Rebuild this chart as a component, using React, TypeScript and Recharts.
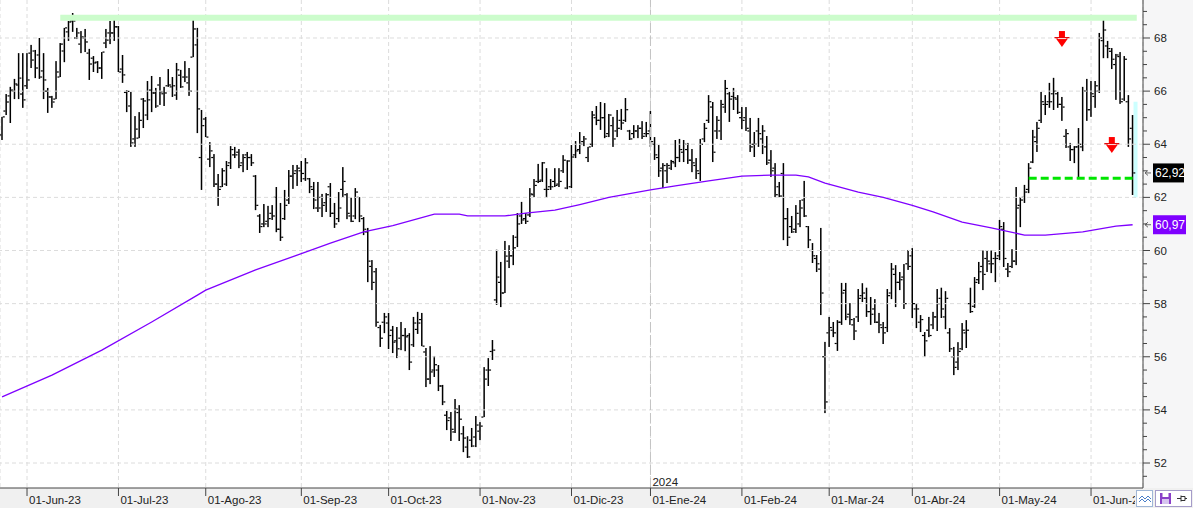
import React from 'react';
import {
  ComposedChart,
  Bar,
  Line,
  XAxis,
  YAxis,
  CartesianGrid,
  ReferenceLine,
  ReferenceDot
} from 'recharts';

// daily bars, one entry per trading session (index 0 = end of May 2023)
const OPEN = [
  64.35, 65.25, 65.82, 66.00, 66.23, 65.89, 66.20, 67.43, 67.51, 67.36,
  66.76, 66.00, 65.78, 65.70, 66.53, 67.51, 68.23, 68.64, 68.00, 67.77,
  68.00, 67.43, 67.24, 67.09, 66.87, 67.81, 68.19, 68.19, 68.42, 66.83,
  65.95, 65.44, 64.20, 64.23, 65.70, 65.10, 66.04, 65.93, 66.23, 65.90,
  66.20, 66.16, 65.85, 66.60, 66.53, 66.31, 67.28, 67.74, 63.50, 64.95,
  63.44, 63.50, 62.50, 62.40, 62.50, 63.30, 63.60, 63.70, 63.30, 63.60,
  63.50, 62.80, 61.30, 61.00, 61.10, 61.40, 62.00, 60.80, 61.20, 61.90,
  62.80, 63.00, 63.00, 62.70, 62.70, 62.30, 61.60, 62.00, 61.80, 62.40,
  61.40, 61.20, 62.30, 62.10, 61.30, 61.30, 62.00, 61.20, 60.70, 59.40,
  59.20, 57.10, 57.30, 57.27, 57.00, 56.60, 56.70, 56.80, 56.80, 56.45,
  57.03, 57.40, 56.18, 55.16, 55.50, 55.50, 54.90, 53.80, 53.70, 53.17,
  53.90, 53.10, 52.60, 52.86, 52.98, 53.20, 53.73, 55.50, 56.20, 58.14,
  58.80, 58.40, 59.60, 59.80, 60.50, 61.30, 61.20, 61.34, 62.10, 62.60,
  62.65, 62.30, 62.40, 62.60, 62.50, 63.00, 62.35, 62.40, 63.60, 63.80,
  64.10, 63.50, 64.00, 65.00, 64.90, 65.00, 64.40, 64.70, 64.50, 64.90,
  64.90, 64.50, 64.40, 64.50, 64.60, 64.40, 64.50, 64.00, 63.50, 63.10,
  63.00, 63.10, 63.30, 63.50, 63.70, 63.80, 63.40, 63.20, 62.90, 64.20,
  64.90, 65.40, 64.50, 64.50, 65.40, 65.90, 65.80, 65.70, 65.00, 65.00,
  64.50, 64.00, 64.50, 64.20, 63.90, 63.40, 63.10, 62.40, 62.90, 61.20,
  60.90, 60.80, 61.00, 61.90, 60.90, 60.00, 59.70, 59.30, 56.00, 56.90,
  57.00, 56.50, 57.30, 58.50, 57.60, 57.20, 57.50, 58.30, 58.20, 57.70,
  57.80, 57.30, 57.10, 57.10, 58.40, 59.10, 58.80, 59.00, 59.50, 59.80,
  57.80, 57.30, 56.80, 57.00, 57.20, 57.50, 58.20, 57.50, 56.90, 56.00,
  55.80, 56.30, 56.90, 58.00, 57.90, 58.90, 59.40, 59.70, 59.50, 59.70,
  59.80, 60.80, 59.30, 59.40, 59.60, 61.70, 62.00, 62.30, 63.33, 64.10,
  64.90, 65.50, 65.60, 65.90, 65.90, 65.50, 64.30, 63.90, 63.80, 63.90,
  63.90, 66.00, 65.30, 65.80, 66.00, 67.90, 67.70, 67.50, 67.00, 67.30,
  65.70, 65.60, 64.60
];

const HIGH = [
  65.03, 65.89, 66.16, 66.46, 67.43, 67.43, 67.43, 67.74, 67.55, 68.00,
  67.43, 66.12, 65.82, 67.13, 67.81, 68.38, 68.64, 68.94, 68.38, 68.26,
  68.34, 67.59, 67.32, 67.13, 67.47, 68.34, 68.64, 68.68, 68.45, 67.36,
  66.04, 65.97, 65.06, 65.21, 65.74, 66.38, 66.57, 66.12, 66.53, 66.16,
  66.83, 66.53, 67.06, 66.80, 67.13, 66.87, 68.72, 68.38, 65.29, 65.03,
  64.08, 63.63, 62.88, 63.10, 63.37, 63.93, 63.90, 63.82, 63.63, 63.71,
  63.63, 62.84, 61.37, 61.75, 61.68, 61.71, 62.39, 61.79, 62.28, 63.03,
  63.22, 63.22, 63.37, 63.48, 62.73, 62.58, 62.58, 62.13, 62.16, 62.54,
  61.79, 62.20, 63.14, 62.16, 62.01, 62.35, 62.01, 61.26, 60.85, 59.64,
  59.34, 57.20, 57.65, 57.65, 57.16, 57.12, 57.31, 57.08, 56.89, 57.50,
  57.69, 57.65, 56.33, 56.40, 56.03, 55.69, 54.94, 53.96, 53.92, 54.41,
  54.18, 53.39, 53.01, 53.32, 53.77, 53.54, 55.61, 55.95, 56.63, 60.03,
  59.57, 60.36, 60.20, 60.58, 61.41, 61.83, 61.41, 62.35, 62.69, 63.26,
  63.33, 63.10, 62.69, 63.10, 63.10, 63.59, 63.40, 63.97, 64.12, 64.46,
  64.31, 63.90, 65.25, 65.44, 65.59, 65.55, 65.14, 65.03, 65.29, 65.33,
  65.74, 64.54, 64.72, 64.72, 64.87, 64.84, 65.25, 64.27, 63.97, 63.29,
  63.29, 63.41, 64.16, 64.20, 64.16, 64.05, 63.82, 63.48, 64.20, 64.80,
  65.85, 65.59, 65.06, 65.67, 66.42, 65.97, 66.12, 65.85, 65.40, 65.40,
  64.99, 64.46, 64.99, 64.72, 64.31, 63.78, 63.29, 62.58, 63.29, 61.60,
  61.30, 61.71, 61.90, 62.62, 60.92, 60.28, 59.83, 60.85, 56.56, 57.50,
  57.31, 57.38, 58.78, 58.78, 58.02, 57.46, 58.55, 58.77, 58.60, 58.25,
  58.17, 57.65, 57.31, 58.55, 59.53, 59.45, 59.19, 59.49, 60.02, 60.09,
  58.00, 57.57, 56.93, 57.50, 57.69, 58.55, 58.60, 58.47, 57.08, 56.37,
  56.55, 57.27, 57.38, 58.60, 59.00, 59.57, 60.00, 60.00, 60.00, 59.94,
  61.15, 61.07, 59.53, 60.05, 62.39, 62.01, 62.47, 63.29, 64.54, 64.84,
  65.97, 65.85, 66.31, 66.50, 65.97, 65.78, 64.57, 64.05, 63.93, 64.61,
  66.16, 66.46, 66.38, 66.38, 68.19, 68.68, 67.89, 67.62, 67.40, 67.47,
  67.32, 65.85, 65.10
];

const LOW = [
  64.16, 65.10, 64.80, 65.70, 65.70, 65.37, 66.08, 66.87, 66.49, 66.46,
  65.70, 65.18, 65.37, 65.70, 66.53, 67.09, 67.89, 68.23, 67.96, 67.43,
  67.47, 66.42, 66.72, 66.68, 66.46, 67.62, 67.77, 67.89, 66.72, 66.31,
  65.21, 63.90, 63.90, 64.23, 64.61, 64.91, 65.21, 65.37, 65.48, 65.44,
  66.16, 65.78, 65.67, 66.12, 66.34, 65.82, 67.28, 64.42, 62.28, 64.27,
  63.14, 62.39, 61.68, 62.39, 62.43, 63.07, 63.48, 63.10, 62.95, 63.03,
  63.18, 61.52, 60.66, 60.88, 60.88, 61.15, 60.69, 60.36, 61.15, 61.75,
  62.32, 62.43, 62.58, 62.62, 62.16, 61.56, 61.45, 61.26, 61.45, 61.26,
  60.85, 61.07, 62.01, 61.18, 61.07, 61.18, 61.07, 60.58, 58.81, 58.51,
  57.13, 56.37, 56.89, 56.29, 56.14, 55.95, 56.25, 56.21, 55.50, 56.37,
  56.86, 56.40, 54.86, 54.97, 55.24, 54.71, 54.18, 53.24, 52.83, 53.13,
  52.83, 52.41, 52.19, 52.60, 52.60, 52.86, 53.73, 54.90, 55.88, 57.95,
  57.87, 58.40, 59.34, 59.45, 60.13, 61.00, 61.00, 61.26, 62.01, 62.54,
  62.58, 62.00, 62.28, 62.39, 62.39, 62.92, 62.31, 62.35, 63.48, 63.63,
  63.93, 63.33, 63.90, 64.72, 64.54, 64.23, 64.27, 63.90, 64.27, 64.54,
  64.84, 64.16, 64.23, 64.23, 64.20, 64.27, 63.90, 63.41, 62.77, 62.35,
  62.54, 63.03, 63.14, 63.33, 63.33, 63.26, 62.95, 62.69, 62.62, 64.08,
  64.80, 63.33, 64.20, 64.16, 65.18, 64.84, 65.29, 65.14, 64.57, 64.50,
  63.71, 63.52, 63.90, 63.63, 63.22, 62.77, 62.01, 62.01, 60.39, 60.17,
  60.66, 60.66, 60.88, 61.26, 60.09, 59.53, 59.19, 57.57, 53.88, 56.37,
  56.74, 56.22, 57.20, 57.38, 57.20, 56.63, 57.31, 58.06, 57.50, 57.20,
  57.27, 56.89, 56.48, 56.93, 58.17, 57.87, 58.51, 57.80, 59.27, 57.46,
  57.08, 56.93, 56.00, 56.74, 57.04, 56.97, 57.46, 57.04, 56.18, 55.31,
  55.50, 56.25, 56.33, 57.65, 57.84, 58.74, 58.51, 59.19, 59.15, 58.81,
  59.64, 59.38, 59.00, 59.34, 59.45, 60.88, 61.79, 62.16, 63.29, 63.71,
  64.80, 65.10, 65.37, 65.29, 65.37, 64.88, 63.86, 63.37, 63.29, 62.73,
  63.74, 64.88, 65.03, 65.37, 65.93, 67.24, 67.24, 66.83, 65.67, 65.52,
  65.63, 63.90, 62.09
];

const CLOSE = [
  65.03, 65.59, 66.04, 66.27, 66.49, 65.67, 66.42, 67.17, 66.87, 66.53,
  66.42, 65.78, 65.59, 66.72, 67.77, 68.38, 68.60, 68.64, 68.19, 68.04,
  67.85, 67.02, 67.06, 66.87, 67.47, 67.92, 68.19, 68.42, 66.72, 66.61,
  65.99, 64.05, 64.57, 64.90, 65.63, 65.67, 65.93, 65.44, 65.97, 65.93,
  66.23, 66.20, 66.80, 66.16, 66.53, 66.00, 68.34, 65.33, 64.70, 64.27,
  63.75, 62.50, 62.30, 63.00, 63.20, 63.80, 63.60, 63.20, 63.50, 63.50,
  63.30, 61.70, 60.90, 61.00, 61.20, 61.30, 60.80, 60.50, 61.70, 62.80,
  62.90, 63.10, 62.90, 63.30, 62.40, 61.90, 61.60, 61.70, 62.10, 61.40,
  61.00, 61.60, 62.60, 61.40, 61.10, 62.20, 61.30, 60.80, 59.60, 58.80,
  57.30, 56.70, 57.50, 56.80, 56.55, 56.30, 56.80, 56.75, 55.80, 57.27,
  57.27, 56.40, 55.16, 55.43, 55.70, 54.90, 54.30, 53.60, 53.27, 54.03,
  53.65, 52.94, 52.23, 52.64, 53.43, 53.39, 55.16, 55.50, 56.25, 59.00,
  58.40, 59.79, 59.80, 60.10, 61.00, 61.15, 61.10, 62.13, 62.45, 62.60,
  63.30, 62.30, 62.40, 62.45, 62.60, 63.40, 63.37, 63.52, 63.75, 64.00,
  64.20, 63.90, 65.10, 64.90, 65.00, 64.30, 65.10, 64.20, 64.60, 64.80,
  65.30, 64.20, 64.50, 64.60, 64.30, 64.40, 64.10, 63.60, 63.00, 63.20,
  63.20, 63.35, 63.50, 63.80, 64.00, 63.40, 63.30, 63.00, 64.00, 64.60,
  65.60, 63.70, 64.90, 65.50, 66.10, 65.70, 65.75, 65.20, 64.90, 64.60,
  63.90, 64.00, 64.40, 64.50, 63.30, 63.00, 62.10, 62.05, 61.20, 60.50,
  60.70, 61.40, 61.60, 61.30, 60.40, 59.80, 59.50, 58.40, 54.30, 57.10,
  56.90, 57.30, 58.40, 57.50, 57.40, 56.97, 58.20, 58.40, 57.70, 57.60,
  57.30, 57.20, 56.90, 58.30, 59.30, 58.80, 58.90, 58.00, 59.40, 58.00,
  57.80, 57.40, 56.60, 56.80, 57.50, 58.00, 57.80, 58.20, 56.30, 55.60,
  56.20, 57.00, 57.00, 57.70, 58.80, 59.20, 59.10, 59.60, 59.50, 59.70,
  60.90, 59.70, 59.20, 59.60, 61.60, 61.90, 62.20, 63.10, 64.27, 64.60,
  65.60, 65.50, 65.60, 66.00, 65.50, 65.40, 64.40, 63.80, 63.90, 64.00,
  66.00, 65.30, 65.90, 66.20, 68.00, 68.30, 67.60, 67.20, 67.36, 65.60,
  67.20, 64.20, 62.92
];

// moving average read at a few sessions, the line joins them
const MA_AT = [0, 12, 24, 36, 47, 49, 61, 71, 79, 87, 94, 104, 110, 112, 121, 126, 133, 139, 146, 156,
  162, 170, 178, 185, 191, 194, 198, 206, 212, 219, 224, 231, 238, 246, 251, 260, 268, 272];
const MA_VAL = [54.49, 55.31, 56.25, 57.31, 58.32, 58.51, 59.27, 59.83, 60.28, 60.70, 60.94, 61.37, 61.37, 61.30,
  61.30, 61.41, 61.52, 61.73, 62.00, 62.28, 62.43, 62.62, 62.80, 62.84, 62.84, 62.77, 62.54, 62.20, 62.00, 61.70,
  61.45, 61.07, 60.85, 60.58, 60.58, 60.70, 60.92, 60.97];

const MONTH_TICKS = [6, 28, 49, 72, 93, 115, 137, 156, 178, 199, 219, 240, 262];
const MONTH_LABELS = ['01-Jun-23', '01-Jul-23', '01-Ago-23', '01-Sep-23', '01-Oct-23', '01-Nov-23', '01-Dic-23',
  '01-Ene-24', '01-Feb-24', '01-Mar-24', '01-Abr-24', '01-May-24', '01-Jun-24'];

const Y_TICKS = [51.5, 52, 52.5, 53, 53.5, 54, 54.5, 55, 55.5, 56, 56.5, 57, 57.5, 58, 58.5, 59, 59.5, 60,
  60.5, 61, 61.5, 62, 62.5, 63, 63.5, 64, 64.5, 65, 65.5, 66, 66.5, 67, 67.5, 68, 68.5, 69];
const GRID_VALUES = [52, 54, 56, 58, 60, 62, 64, 66, 68];

const RESISTANCE = 68.76;
const SUPPORT = 62.72;
const LAST_PRICE = 62.92;
const LAST_MA = 60.97;
const LAST_GLOW = [62.0, 65.6];
const ARROWS = [{ i: 255, v: 67.96 }, { i: 267, v: 63.97 }];

const W = 1193;
const H = 508;
const AXIS_W = 50;
const AXIS_H = 20;
const PLOT_R = W - AXIS_W;
const PLOT_B = H - AXIS_H;
const SLOTS = 275;
const LAST = OPEN.length - 1;
const FONT = '"Liberation Sans", Arial, sans-serif';

const maMap = new Map<number, number>();
MA_AT.forEach((idx, k) => maMap.set(idx, MA_VAL[k]));

const data = Array.from({ length: SLOTS }, (_, i) => {
  const has = i < OPEN.length;
  return {
    i,
    range: has ? [LOW[i], HIGH[i]] : null,
    o: has ? OPEN[i] : null,
    h: has ? HIGH[i] : null,
    l: has ? LOW[i] : null,
    c: has ? CLOSE[i] : null,
    ma: maMap.has(i) ? maMap.get(i) : null
  };
});

const OhlcShape = (props: any) => {
  const { x, y, width, height, payload } = props;
  if (!payload || payload.h == null) return null;
  const top = Math.min(y, y + height);
  const len = Math.abs(height);
  const ppu = payload.h > payload.l ? len / (payload.h - payload.l) : 0;
  const py = (v: number) => top + (payload.h - v) * ppu;
  const cx = x + width / 2;
  return (
    <g>
      {payload.i === LAST ? (
        <rect x={cx + 1} y={py(LAST_GLOW[1])} width={4} height={py(LAST_GLOW[0]) - py(LAST_GLOW[1])} fill="#ccffff" />
      ) : null}
      <rect x={cx - 0.75} y={top} width={1.5} height={Math.max(len, 1)} fill="#000" />
      <rect x={cx - 2.75} y={py(payload.o) - 0.6} width={2} height={1.2} fill="#000" />
      <rect x={cx + 0.75} y={py(payload.c) - 0.6} width={2} height={1.2} fill="#000" />
    </g>
  );
};

const XTick = (props: any) => {
  const { x, payload } = props;
  const k = MONTH_TICKS.indexOf(payload.value);
  return (
    <g>
      <line x1={x} x2={x} y1={PLOT_B} y2={PLOT_B + 8} stroke="#444" />
      <text x={x + 2} y={PLOT_B + 16} fontSize={11.5} fontFamily={FONT} fill="#222">
        {k >= 0 ? MONTH_LABELS[k] : ''}
      </text>
    </g>
  );
};

const YTick = (props: any) => {
  const { y, payload } = props;
  const v = payload.value;
  const major = Math.abs(v % 2) < 1e-6;
  return (
    <g>
      <line x1={PLOT_R} x2={PLOT_R + (major ? 7 : 4)} y1={y} y2={y} stroke="#444" />
      {major ? (
        <text x={PLOT_R + 11} y={y + 4} fontSize={11.5} fontFamily={FONT} fill="#222">{v}</text>
      ) : null}
    </g>
  );
};

const PriceTag = (props: any) => {
  const { viewBox, color, text, boxW } = props;
  if (!viewBox) return null;
  const y = viewBox.y;
  return (
    <g>
      <path d={`M${PLOT_R + 2} ${y} h6 M${PLOT_R + 2} ${y} l3 -2.5 M${PLOT_R + 2} ${y} l3 2.5`} stroke="#666" fill="none" />
      <rect x={PLOT_R + 10} y={y - 9.5} width={boxW} height={19} fill={color} />
      <text x={PLOT_R + 12} y={y + 4.5} fontSize={12} fontFamily={FONT} fill="#fff">{text}</text>
    </g>
  );
};

const DownArrow = (props: any) => {
  const { cx, cy } = props;
  if (cx == null || cy == null) return null;
  return (
    <g>
      <rect x={cx - 3} y={cy - 8} width={6} height={6} fill="#ff0000" />
      <rect x={cx - 7.5} y={cy - 2} width={15} height={1.2} fill="#e00000" />
      <path d={`M${cx - 6} ${cy - 0.5} L${cx + 6} ${cy - 0.5} L${cx} ${cy + 8} Z`} fill="#ff0000" />
      <rect x={cx - 4} y={cy - 0.8} width={8} height={0.8} fill="#ffffff" />
    </g>
  );
};

const NoDot = () => null;

export default function App() {
  return (
    <div style={{ position: 'absolute', left: 0, top: 0, width: W, height: H, background: '#fff', overflow: 'hidden' }}>
      <div style={{ position: 'absolute', left: 0, top: PLOT_B, width: W, height: AXIS_H, background: '#f0f0f0' }} />
      <div style={{ position: 'absolute', left: PLOT_R, top: 0, width: AXIS_W, height: PLOT_B, background: '#f6f6f7' }} />
      <div style={{ position: 'absolute', left: 0, top: 0 }}>
        <ComposedChart width={W} height={H} data={data} margin={{ top: 0, right: 0, bottom: 0, left: 0 }} barCategoryGap={0}>
          <CartesianGrid horizontal={false} stroke="#dcdcdc" strokeDasharray="4 3" />
          {GRID_VALUES.map((v) => (
            <ReferenceLine key={`g${v}`} y={v} stroke="#dcdcdc" strokeDasharray="4 3" />
          ))}
          <ReferenceLine
            x={156}
            stroke="#c4c4c4"
            strokeDasharray="10 3"
            label={{ value: '2024', position: 'insideBottomLeft', offset: 2, fontSize: 11.5, fill: '#222', fontFamily: FONT }}
          />
          <XAxis
            dataKey="i"
            type="category"
            ticks={MONTH_TICKS}
            interval={0}
            tick={<XTick />}
            tickLine={false}
            axisLine={{ stroke: '#444' }}
            height={AXIS_H}
          />
          <YAxis
            orientation="right"
            type="number"
            domain={[51.06, 69.43]}
            allowDataOverflow
            ticks={Y_TICKS}
            interval={0}
            tick={<YTick />}
            tickLine={false}
            axisLine={{ stroke: '#444' }}
            width={AXIS_W}
          />
          <ReferenceLine
            segment={[{ x: 14, y: RESISTANCE }, { x: 273, y: RESISTANCE }]}
            stroke="#ccfccc"
            strokeWidth={6}
          />
          <Bar dataKey="range" shape={<OhlcShape />} isAnimationActive={false} />
          <Line
            type="linear"
            dataKey="ma"
            stroke="#7f00ff"
            strokeWidth={1.3}
            dot={false}
            activeDot={false}
            connectNulls
            legendType="none"
            isAnimationActive={false}
          />
          <ReferenceLine
            segment={[{ x: 247, y: SUPPORT }, { x: 272, y: SUPPORT }]}
            stroke="#00e600"
            strokeWidth={3}
            strokeDasharray="8 4"
          />
          {ARROWS.map((a) => (
            <ReferenceDot key={`a${a.i}`} x={a.i} y={a.v} r={8} shape={<DownArrow />} />
          ))}
          <ReferenceLine y={LAST_PRICE} stroke="none" label={<PriceTag color="#000000" text="62,92" boxW={31} />} />
          <ReferenceLine y={LAST_MA} stroke="none" label={<PriceTag color="#7f00ff" text="60,97" boxW={33} />} />
        </ComposedChart>
      </div>
      <svg style={{ position: 'absolute', left: 1135, top: PLOT_B + 1 }} width={58} height={19}>
        <rect x={0} y={0} width={58} height={19} fill="#f0f0f0" />
        <rect x={1.5} y={1.5} width={16} height={16} fill="#fff" stroke="#9fb6d6" />
        <path d="M4 10 l3 -3 l3 3 l3 -3 l3 3 M4 13 l3 -3 l3 3 l3 -3 l3 3" stroke="#4a7fc8" fill="none" strokeWidth={1} />
        <rect x={20.5} y={1.5} width={36} height={16} fill="#fff" stroke="#a59cc9" />
        <rect x={25} y={4} width={11} height={11} fill="#8a3fc8" />
        <rect x={27.5} y={4} width={6} height={4} fill="#fff" />
        <rect x={27} y={10} width={7} height={5} fill="#d6c4ef" />
        <path d="M42 9.5 h4 M46 6.5 v6 M46 7.5 h4 v4 h-4 M50 9.5 h2" stroke="#333" fill="none" />
      </svg>
    </div>
  );
}
